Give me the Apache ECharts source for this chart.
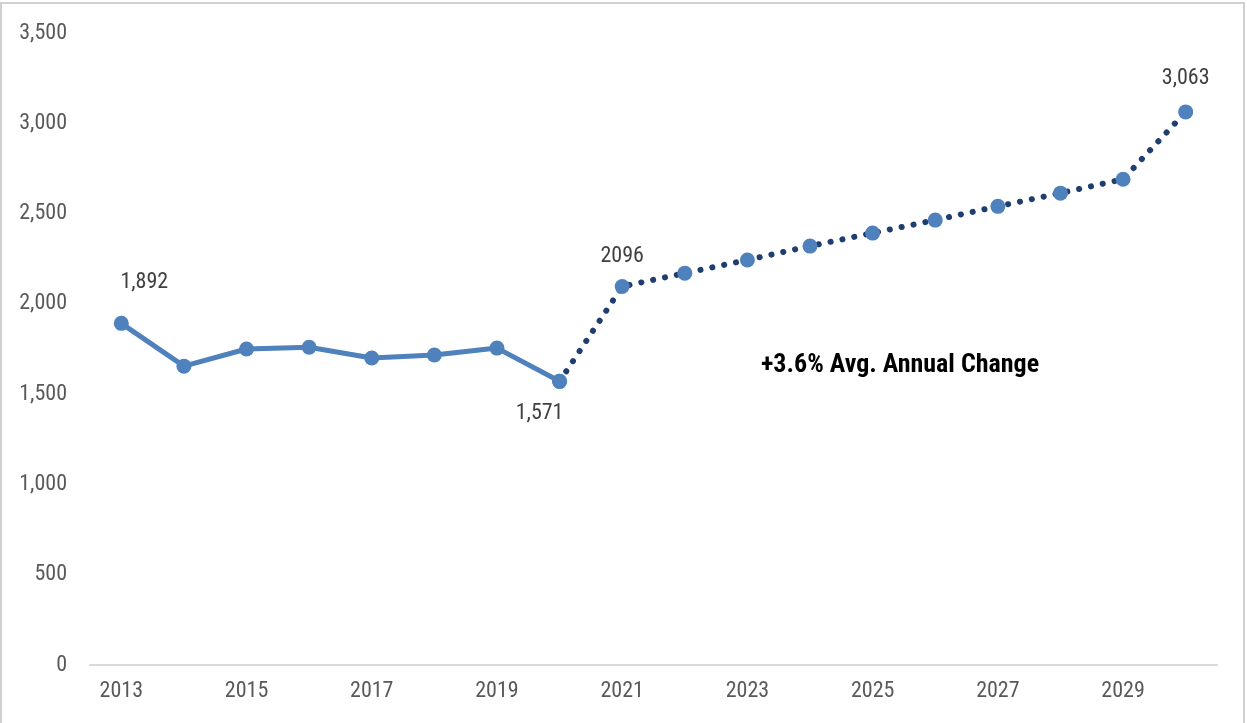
<!DOCTYPE html>
<html><head><meta charset="utf-8">
<script src="https://cdn.jsdelivr.net/npm/echarts@6/dist/echarts.min.js"></script>
<style>html,body{margin:0;padding:0;background:#fff}#c{width:1247px;height:723px}</style>
</head><body><div id="c"></div>
<script>
const years = ['2013','2014','2015','2016','2017','2018','2019','2020','2021','2022','2023','2024','2025','2026','2027','2028','2029','2030'];
const actual = [1892,1655,1750,1760,1700,1717,1755,1571,null,null,null,null,null,null,null,null,null,null];
const forecast = [null,null,null,null,null,null,null,1571,2096,2170,2243,2320,2392,2464,2540,2613,2690,3063];
const labelText = {0:'1,892', 7:'1,571', 8:'2096', 17:'3,063'};
const annotation = '+3.6% Avg. Annual Change';

const font = '"Roboto Condensed","Arial Narrow",sans-serif';
const chart = echarts.init(document.getElementById('c'));
const lblBase = {show:true, fontFamily:font, fontSize:22, color:'#404040', formatter: p => labelText[p.dataIndex] || ''};
const actualData = actual.map((v,i) => {
  if (i===0) return {value:v, label:Object.assign({}, lblBase, {position:'top', offset:[23,-17]})};
  return v;
});
const forecastData = forecast.map((v,i) => {
  if (i===7) return {value:v, label:Object.assign({}, lblBase, {position:'bottom', offset:[-20,9]})};
  if (i===8) return {value:v, label:Object.assign({}, lblBase, {position:'top', offset:[0,-7]})};
  if (i===17) return {value:v, label:Object.assign({}, lblBase, {position:'top', offset:[0,-10]})};
  return v;
});
chart.setOption({
  animation:false,
  grid:{left:90, right:30, top:33, bottom:58},
  xAxis:{type:'category', data:years, boundaryGap:true,
    axisLine:{lineStyle:{color:'#D9D9D9', width:2}}, axisTick:{show:false},
    axisLabel:{interval:1, fontFamily:font, fontSize:22, color:'#595959', margin:15}},
  yAxis:{type:'value', min:0, max:3500, interval:500,
    splitLine:{show:false}, axisLine:{show:false}, axisTick:{show:false},
    axisLabel:{fontFamily:font, fontSize:22, color:'#595959', margin:23,
      formatter: v => v.toLocaleString('en-US')}},
  series:[
    {type:'line', data:forecastData, symbol:'circle', symbolSize:15, z:2,
      lineStyle:{color:'#1F3D6E', width:6, type:[0.1,12], cap:'round'},
      itemStyle:{color:'#4F81BD'}, label:{show:false}},
    {type:'line', data:actualData, symbol:'circle', symbolSize:15, z:3,
      lineStyle:{color:'#4F81BD', width:5},
      itemStyle:{color:'#4F81BD'}, label:{show:false}}
  ],
  graphic:[
    {type:'rect', shape:{x:1, y:3, width:1243, height:730}, style:{fill:null, stroke:'#D0D0D0', lineWidth:2}, silent:true},
    {type:'text', left:761, top:352, style:{text:annotation, fontFamily:font, fontSize:26, fontWeight:'bold', fill:'#000'}}
  ]
});
</script></body></html>
